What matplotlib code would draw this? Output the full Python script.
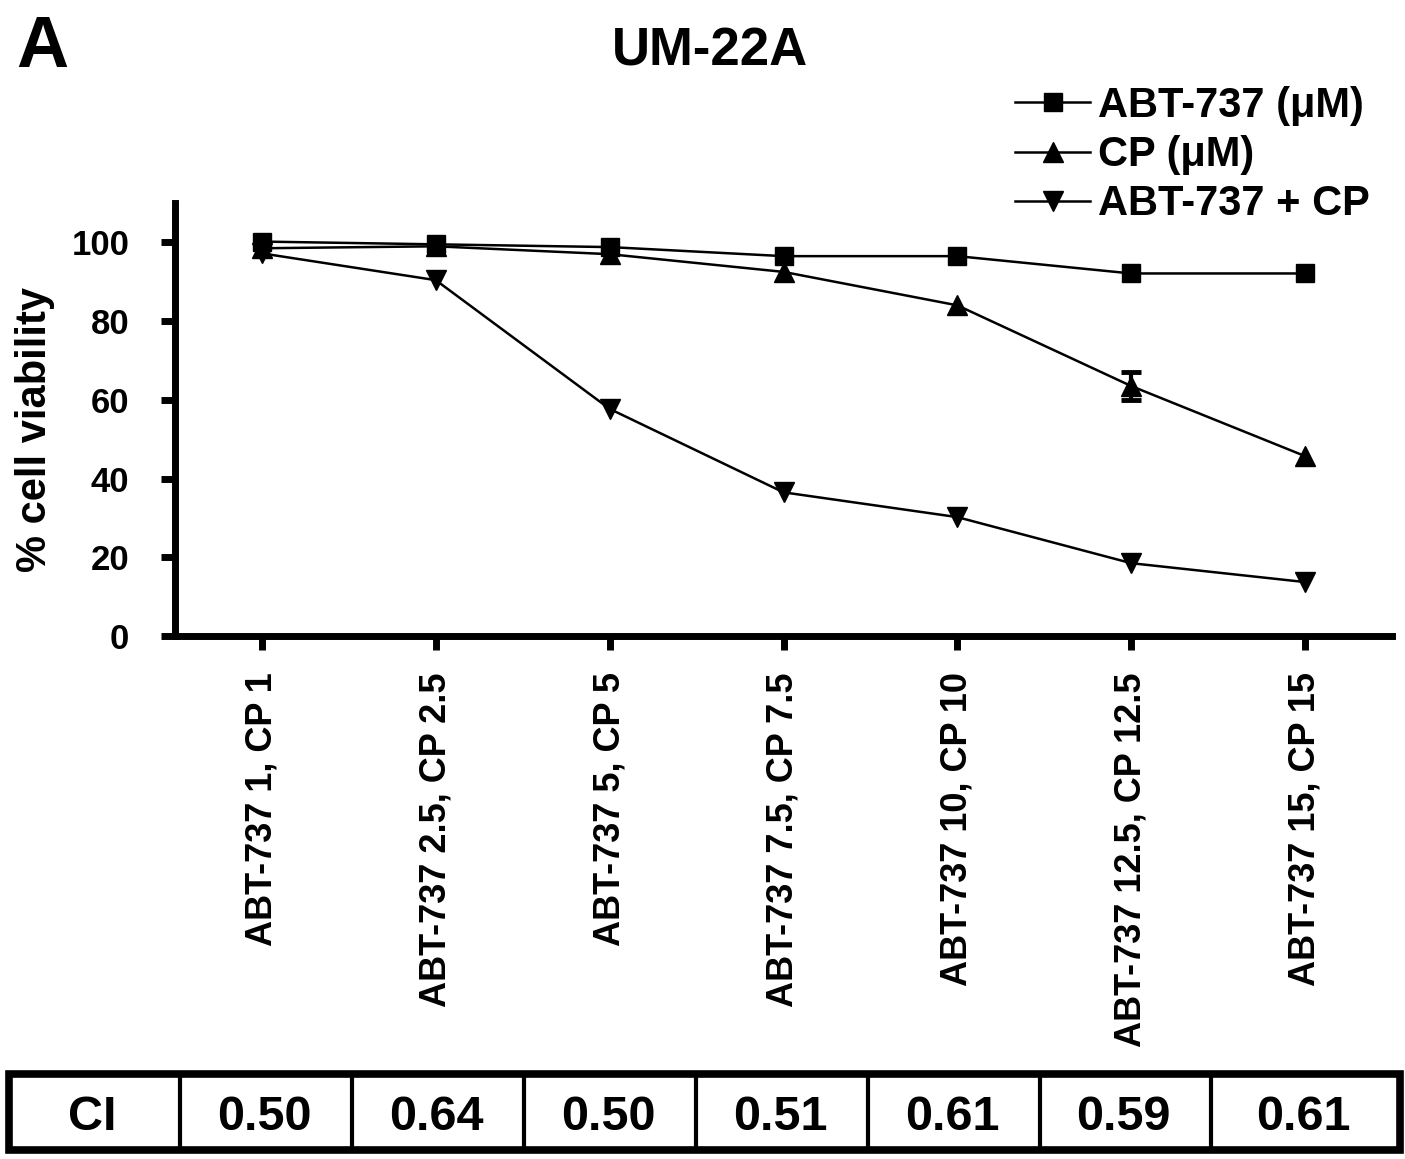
import matplotlib
matplotlib.use('Agg')
import matplotlib.pyplot as plt
from matplotlib.patches import Rectangle
import numpy as np

plt.rcParams['font.family'] = ['Liberation Sans', 'DejaVu Sans']
plt.rcParams['font.weight'] = 'bold'

# ---------------- data ----------------
categories = ["ABT-737 1, CP 1", "ABT-737 2.5, CP 2.5", "ABT-737 5, CP 5",
              "ABT-737 7.5, CP 7.5", "ABT-737 10, CP 10",
              "ABT-737 12.5, CP 12.5", "ABT-737 15, CP 15"]
abt_viability = [100.2, 99.5, 98.8, 96.5, 96.5, 92.1, 92.1]
cp_viability = [98.5, 99.0, 97.0, 92.5, 84.0, 63.5, 45.7]
cp_error = [0, 0, 0, 0, 0, 3.5, 0]
combo_viability = [97.2, 90.4, 57.7, 36.5, 30.2, 18.5, 13.7]
series_labels = ["ABT-737 (\u03bcM)", "CP (\u03bcM)", "ABT-737 + CP"]
ci_header = "CI"
ci_values = ["0.50", "0.64", "0.50", "0.51", "0.61", "0.59", "0.61"]
yticks = [0, 20, 40, 60, 80, 100]

W, H = 1405, 1159
fig = plt.figure(figsize=(W / 100, H / 100), dpi=100)

ax = fig.add_axes([175 / W, 1 - 636 / H, 1217 / W, 433 / H])
x = np.arange(len(categories))

line_kw = dict(color='black', lw=1.8)
ax.plot(x, abt_viability, marker='s', markersize=13, label=series_labels[0], **line_kw)
ax.plot(x, cp_viability, marker='^', markersize=14.5, label=series_labels[1], **line_kw)
ax.plot(x, combo_viability, marker='v', markersize=14.5, label=series_labels[2], **line_kw)

err = np.array(cp_error)
mask = err > 0
ax.errorbar(x[mask], np.array(cp_viability)[mask], yerr=err[mask], fmt='none',
            ecolor='black', elinewidth=3, capsize=7.5, capthick=3.5)

ax.set_xlim(-0.5, len(categories) - 0.5)
ax.set_ylim(0, 110)
ax.set_yticks(yticks)
ax.set_xticks(x)
ax.set_xticklabels(categories, rotation=90, va='top', ha='center',
                   fontsize=26, fontweight='bold')
ax.set_yticklabels([str(v) for v in yticks], fontsize=25, fontweight='bold')

for s in ['top', 'right']:
    ax.spines[s].set_visible(False)
for s in ['left', 'bottom']:
    ax.spines[s].set_linewidth(5)
ax.tick_params(axis='both', width=5, length=10, direction='out')
ax.tick_params(axis='x', pad=16)
ax.tick_params(axis='y', pad=23)

leg = ax.legend(loc='upper left', bbox_to_anchor=(1015 / W, 1 - 86 / H),
                bbox_transform=fig.transFigure, frameon=False, fontsize=30,
                handlelength=1.8, handletextpad=0.2, labelspacing=0.22,
                borderpad=0, borderaxespad=0, numpoints=1)
for t in leg.get_texts():
    t.set_fontweight('bold')

fig.text(35 / W, 1 - 429 / H, "% cell viability", rotation=90, ha='center',
         va='center', fontsize=30, fontweight='bold')
fig.text(710 / W, 1 - 66 / H, "UM-22A", ha='center', va='baseline',
         fontsize=38, fontweight='bold')
fig.text(42 / W, 1 - 67 / H, "A", ha='center', va='baseline',
         fontsize=52, fontweight='bold')

# ---------------- CI table ----------------
tax = fig.add_axes([0, 0, 1, 1])
tax.set_xlim(0, W)
tax.set_ylim(H, 0)
tax.axis('off')

table_left = 9
col_widths = [171, 172, 172, 172, 172, 172, 171, 189]
edges = table_left + np.concatenate([[0], np.cumsum(col_widths)])
top, bottom = 1073.5, 1149.5
tax.vlines(edges[1:-1], top, bottom, color='black', lw=3)
tax.add_patch(Rectangle((edges[0], top), edges[-1] - edges[0], bottom - top,
                        fill=False, lw=5.5, edgecolor='black', joinstyle='miter'))
cells = [ci_header] + ci_values
for i, txt in enumerate(cells):
    cx = (edges[i] + edges[i + 1]) / 2
    tax.text(cx - 2, 1130, txt, ha='center', va='baseline', fontsize=35,
             fontweight='bold')

fig.savefig('out.png', dpi=100)
